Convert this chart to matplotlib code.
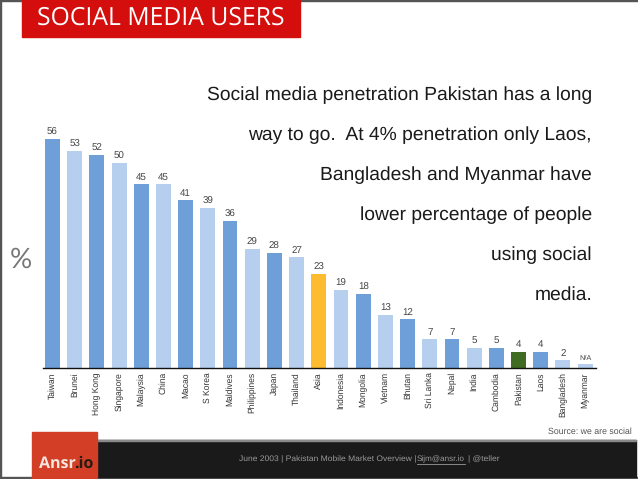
#!/usr/bin/env python3
import matplotlib

matplotlib.use("Agg")
import matplotlib.pyplot as plt
from matplotlib.patches import Rectangle

W, H = 638, 479

countries = ["Taiwan", "Brunei", "Hong Kong", "Singapore", "Malaysia", "China", "Macao",
             "S Korea", "Maldives", "Philippines", "Japan", "Thailand", "Asia", "Indonesia",
             "Mongolia", "Vietnam", "Bhutan", "Sri Lanka", "Nepal", "India", "Cambodia",
             "Pakistan", "Laos", "Bangladesh", "Myanmar"]
penetration = [56, 53, 52, 50, 45, 45, 41, 39, 36, 29, 28, 27, 23, 19, 18, 13, 12, 7, 7, 5, 5, 4, 4, 2, 1]
bar_labels = ["56", "53", "52", "50", "45", "45", "41", "39", "36", "29", "28", "27", "23", "19",
              "18", "13", "12", "7", "7", "5", "5", "4", "4", "2", "N/A"]
bar_colors = ["#6f9fd8", "#b7cfee"] * 6 + ["#fdbb2f"] + ["#b7cfee", "#6f9fd8"] * 4 \
    + ["#3f6b22", "#6f9fd8", "#b7cfee", "#b7cfee"]

text_lines = ["Social media penetration Pakistan has a long",
              "way to go.  At 4% penetration only Laos,",
              "Bangladesh and Myanmar have",
              "lower percentage of people",
              "using social",
              "media."]
text_y = [95.5, 135, 175, 215, 255, 294.5]

plt.rcParams["font.family"] = ["Liberation Sans", "DejaVu Sans"]
plt.rcParams["text.hinting"] = "no_hinting"
fig = plt.figure(figsize=(W / 100, H / 100), dpi=100)

# background layer in pixel coordinates, y going down
bg = fig.add_axes([0, 0, 1, 1])
bg.set_xlim(0, W)
bg.set_ylim(H, 0)
bg.axis("off")
bg.add_patch(Rectangle((0, 0), W, 1, color="#555555"))
bg.add_patch(Rectangle((0, 0), 1, H, color="#555555"))
bg.add_patch(Rectangle((0, H - 2), W, 2, color="#555555"))
bg.add_patch(Rectangle((22, 0), 278, 36.5, color="#d40d0d"))
bg.text(161, 18, "SOCIAL MEDIA USERS", color="white", fontsize=17.8, family="Open Sans",
        ha="center", va="center")

for line, y in zip(text_lines, text_y):
    bg.text(592, y, line, ha="right", va="center", fontsize=13.9, color="#1a1a1a")
bg.text(21, 260, "%", ha="center", va="center", fontsize=20, color="#777777", family="Lato")

bg.text(632, 432, "Source: we are social", ha="right", va="center", fontsize=6.3, color="#555555")
bg.add_patch(Rectangle((97, 440), 539, 36.5, color="#1a1a1a"))
bg.add_patch(Rectangle((97, 440), 539, 1, color="#8a8a8a"))
bg.add_patch(Rectangle((32, 432), 65, 46, color="#d23f26"))
bg.text(39, 464, "Ansr", color="#f5e6de", fontsize=11.5, fontweight="bold", family="Open Sans",
        va="center", ha="left")
bg.text(74, 464, ".io", color="#2a1a14", fontsize=11.5, fontweight="bold", family="Open Sans",
        va="center", ha="left")
bg.text(239, 459, "June 2003 | Pakistan Mobile Market Overview |", color="#999999", fontsize=6.1,
        va="center", ha="left")
bg.text(417, 459, "Sijm@ansr.io", color="#999999", fontsize=5.9, va="center", ha="left")
bg.plot([417, 465], [463.5, 463.5], color="#999999", lw=0.6)
bg.text(468, 459, "| @teller", color="#999999", fontsize=6.1, va="center", ha="left")

# bar chart, baseline at y=368 px
left, right = 43, 596
top, base = 138.7, 368
ax = fig.add_axes([left / W, 1 - base / H, (right - left) / W, (base - top) / H])
ax.patch.set_alpha(0)
x = range(len(countries))
ax.bar(x, penetration, width=0.67, color=bar_colors)
ax.set_xlim(-0.428, 24.49)
ax.set_ylim(0, 56)
for side in ("top", "left", "right"):
    ax.spines[side].set_visible(False)
ax.spines["bottom"].set_linewidth(1.0)
ax.spines["bottom"].set_color("#111111")
ax.set_yticks([])
ax.set_xticks(list(x))
ax.set_xticklabels(countries, rotation=90, fontsize=6.15, color="#333333")
ax.tick_params(axis="x", length=0, pad=3)

for i, (v, lab) in enumerate(zip(penetration, bar_labels)):
    ax.annotate(lab, (i, v), xytext=(0, 1.5), textcoords="offset points", ha="center", va="bottom",
                fontsize=5.3 if lab == "N/A" else 7, color="#444444", annotation_clip=False)

fig.savefig("out.png", dpi=100)
